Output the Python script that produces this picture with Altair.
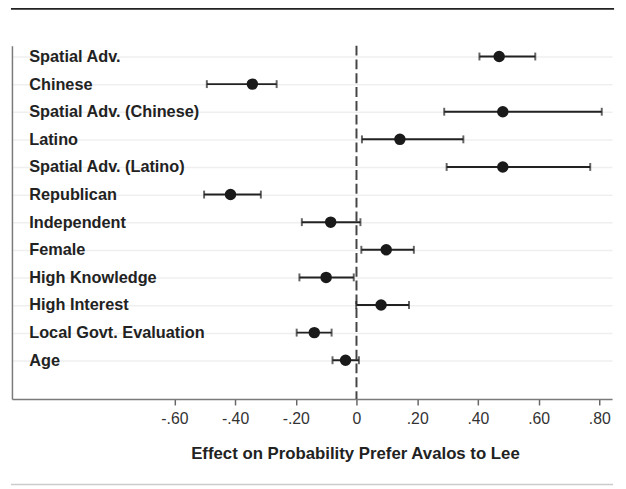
import altair as alt
import pandas as pd

labels = [
    "Spatial Adv.",
    "Chinese",
    "Spatial Adv. (Chinese)",
    "Latino",
    "Spatial Adv. (Latino)",
    "Republican",
    "Independent",
    "Female",
    "High Knowledge",
    "High Interest",
    "Local Govt. Evaluation",
    "Age",
]
estimate = [0.470, -0.343, 0.482, 0.143, 0.482, -0.415, -0.085, 0.098, -0.100, 0.081, -0.139, -0.036]
lower = [0.405, -0.493, 0.289, 0.018, 0.297, -0.502, -0.180, 0.016, -0.188, -0.001, -0.197, -0.079]
upper = [0.589, -0.263, 0.808, 0.352, 0.770, -0.315, 0.013, 0.189, -0.009, 0.173, -0.082, 0.008]
x_ticks = [-0.6, -0.4, -0.2, 0, 0.2, 0.4, 0.6, 0.8]

df = pd.DataFrame({
    "row": list(range(1, len(labels) + 1)),
    "label": labels,
    "est": estimate,
    "lo": lower,
    "hi": upper,
})

FONT = "Liberation Sans"
label_array = "[" + ",".join("'" + s + "'" for s in labels) + "]"

x_scale = alt.Scale(domain=[-1.135, 0.842], nice=False, zero=False)
y_scale = alt.Scale(domain=[0.607, 13.405], reverse=True, nice=False, zero=False)

x_axis = alt.Axis(
    values=x_ticks,
    tickCount=len(x_ticks),
    labelExpr="datum.value == 0 ? '0' : (datum.value < 0 ? '-' : '') + replace(format(abs(datum.value), '.2f'), '0.', '.')",
    title="Effect on Probability Prefer Avalos to Lee",
    titleFont=FONT, titleFontSize=17, titleFontWeight="bold", titleColor="#222222",
    titleX=347.5, titleY=60, titleAlign="center", titleBaseline="alphabetic", titleAnchor="start",
    labelFont=FONT, labelFontSize=16, labelColor="#333333", labelPadding=6,
    labelFlush=False, labelOverlap=False,
    tickSize=6, tickColor="#666666", tickWidth=1.5,
    domainColor="#7a7a7a", domainWidth=1.5, grid=False,
)
y_axis = alt.Axis(
    values=list(range(1, len(labels) + 1)),
    tickCount=len(labels),
    labelExpr=label_array + "[datum.value - 1]",
    title=None,
    labelAlign="left", labelBaseline="middle", labelPadding=-17,
    labelFont=FONT, labelFontSize=16.5, labelFontWeight="bold", labelColor="#222222",
    labelFlush=False, labelOverlap=False, labelBound=False,
    ticks=False, tickSize=0,
    domainColor="#7a7a7a", domainWidth=1.5,
    grid=True, gridColor="#efefef", gridWidth=1.5,
)

base = alt.Chart(df)

bars = base.mark_rule(color="#222222", strokeWidth=2).encode(
    x=alt.X("lo:Q", scale=x_scale, axis=x_axis),
    x2="hi:Q",
    y=alt.Y("row:Q", scale=y_scale, axis=y_axis),
)
cap_lo = base.mark_tick(color="#222222", thickness=2, size=8, orient="vertical").encode(
    x=alt.X("lo:Q", scale=x_scale),
    y=alt.Y("row:Q", scale=y_scale),
)
cap_hi = base.mark_tick(color="#222222", thickness=2, size=8, orient="vertical").encode(
    x=alt.X("hi:Q", scale=x_scale),
    y=alt.Y("row:Q", scale=y_scale),
)
points = base.mark_circle(color="#1a1a1a", opacity=1, size=135).encode(
    x=alt.X("est:Q", scale=x_scale),
    y=alt.Y("row:Q", scale=y_scale),
)

zero_line = alt.Chart(pd.DataFrame({"z": [0]})).mark_rule(
    color="#444444", strokeWidth=2, strokeDash=[10, 4]
).encode(x=alt.X("z:Q", scale=x_scale))

top_line = alt.Chart(pd.DataFrame({"d": [0]})).mark_rule(
    color="#222222", strokeWidth=2
).encode(x=alt.value(-1), x2=alt.value(610), y=alt.value(-37.3))

bottom_line = alt.Chart(pd.DataFrame({"d": [0]})).mark_rule(
    color="#cccccc", strokeWidth=1.5
).encode(x=alt.value(-1), x2=alt.value(609), y=alt.value(444.5))

chart = alt.layer(
    zero_line, bars, cap_lo, cap_hi, points, top_line, bottom_line
).properties(
    width=608,
    height=358,
    autosize=alt.AutoSizeParams(type="none"),
    padding={"left": 4, "top": 35, "right": 6, "bottom": 88},
    background="white",
).configure_view(stroke=None)

chart.save("out.html", embed_options={"renderer": "svg", "actions": False})
